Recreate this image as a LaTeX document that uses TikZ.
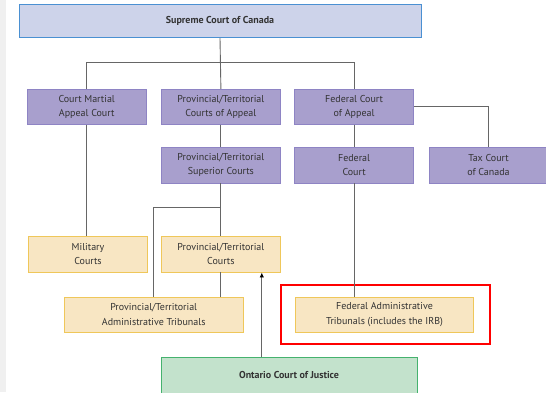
\documentclass[tikz,border=0pt]{standalone}
\usepackage{fontspec}
\setmainfont{PT Sans}
\usetikzlibrary{arrows.meta}
\definecolor{SupFill}{HTML}{CDD3EA}
\definecolor{SupLine}{HTML}{4A90D2}
\definecolor{AppFill}{HTML}{A89FCD}
\definecolor{AppLine}{HTML}{8E84C4}
\definecolor{LowFill}{HTML}{F8E6C3}
\definecolor{LowLine}{HTML}{EFC75A}
\definecolor{OntFill}{HTML}{C3E2CC}
\definecolor{OntLine}{HTML}{45B26E}
\definecolor{LinkGrey}{HTML}{666666}
\definecolor{TextGrey}{HTML}{333333}

\begin{document}
\begin{tikzpicture}[x=1pt,y=-1pt,
  box/.style={line width=.9pt,minimum height=35pt,inner sep=0pt,align=center,
    text=TextGrey,font=\fontsize{10}{14.5}\selectfont},
  upper/.style={box,draw=AppLine,fill=AppFill,minimum width=119pt},
  lower/.style={box,draw=LowLine,fill=LowFill,minimum width=119pt},
  link/.style={draw=LinkGrey,line width=.9pt}]
\useasboundingbox (0,0) rectangle (546,392);
\clip (0,0) rectangle (546,392);
\fill[black!6] (0,0) rectangle (6,392);

\node[box,draw=SupLine,fill=SupFill,minimum width=402pt,minimum height=33pt,
  font=\fontsize{10}{14.5}\selectfont\bfseries] (sup) at (220,21.2) {Supreme Court of Canada};

\node[upper] (cma) at (86.7,106.7) {Court Martial\\Appeal Court};
\node[upper] (pca) at (220.9,106.7) {Provincial/Territorial\\Courts of Appeal};
\node[upper] (fca) at (354.1,106.7) {Federal Court\\of Appeal};

\node[upper,minimum height=36pt] (psc) at (220.9,165) {Provincial/Territorial\\Superior Courts};
\node[upper,minimum height=36pt] (fc) at (354.1,165) {Federal\\Court};
\node[upper,minimum height=36pt] (tax) at (488.5,165) {Tax Court\\of Canada};

\node[lower,minimum height=36pt] (mil) at (88,254) {Military\\Courts};
\node[lower,minimum height=36pt] (ptc) at (220.9,254) {Provincial/Territorial\\Courts};
\node[lower,minimum width=178.6pt] (pat) at (153.7,314.5) {Provincial/Territorial\\Administrative Tribunals};
\node[lower,minimum width=178.6pt] (fat) at (384.5,314.5) {Federal Administrative\\Tribunals (includes the IRB)};
\node[draw=red,line width=1.2pt,minimum width=209pt,minimum height=59pt] (irb) at (385.5,314.5) {};

\node[box,draw=OntLine,fill=OntFill,minimum width=256pt,minimum height=36pt,
  font=\fontsize{10}{14.5}\selectfont\bfseries] (ont) at (289,375) {Ontario Court of Justice};

\coordinate (bus) at (0,62.7);
\coordinate (fork) at (0,207.3);
\coordinate (up) at (261.8,0);

\draw[link] (sup.south) -- (pca.north);
\draw[link] (cma.north) |- (bus -| fca) -- (fca.north);
\draw[link] (fca.east) -| (tax.north);
\draw[link] (pca.south) -- (psc.north);
\draw[link] (fca.south) -- (fc.north);
\draw[link] (cma.south) -- (cma.south |- mil.north);
\draw[link] (psc.south) -- (ptc.north);
\draw[link] (psc |- fork) -| (pat.north);
\draw[link] (ptc.south) -- (ptc.south |- pat.north);
\draw[link] (fc.south) -- (fc.south |- fat.north);
\draw[link,-{Latex[length=5pt,width=4.5pt,black]}] (ont.north -| up) -- (ptc.south -| up);
\end{tikzpicture}
\end{document}
